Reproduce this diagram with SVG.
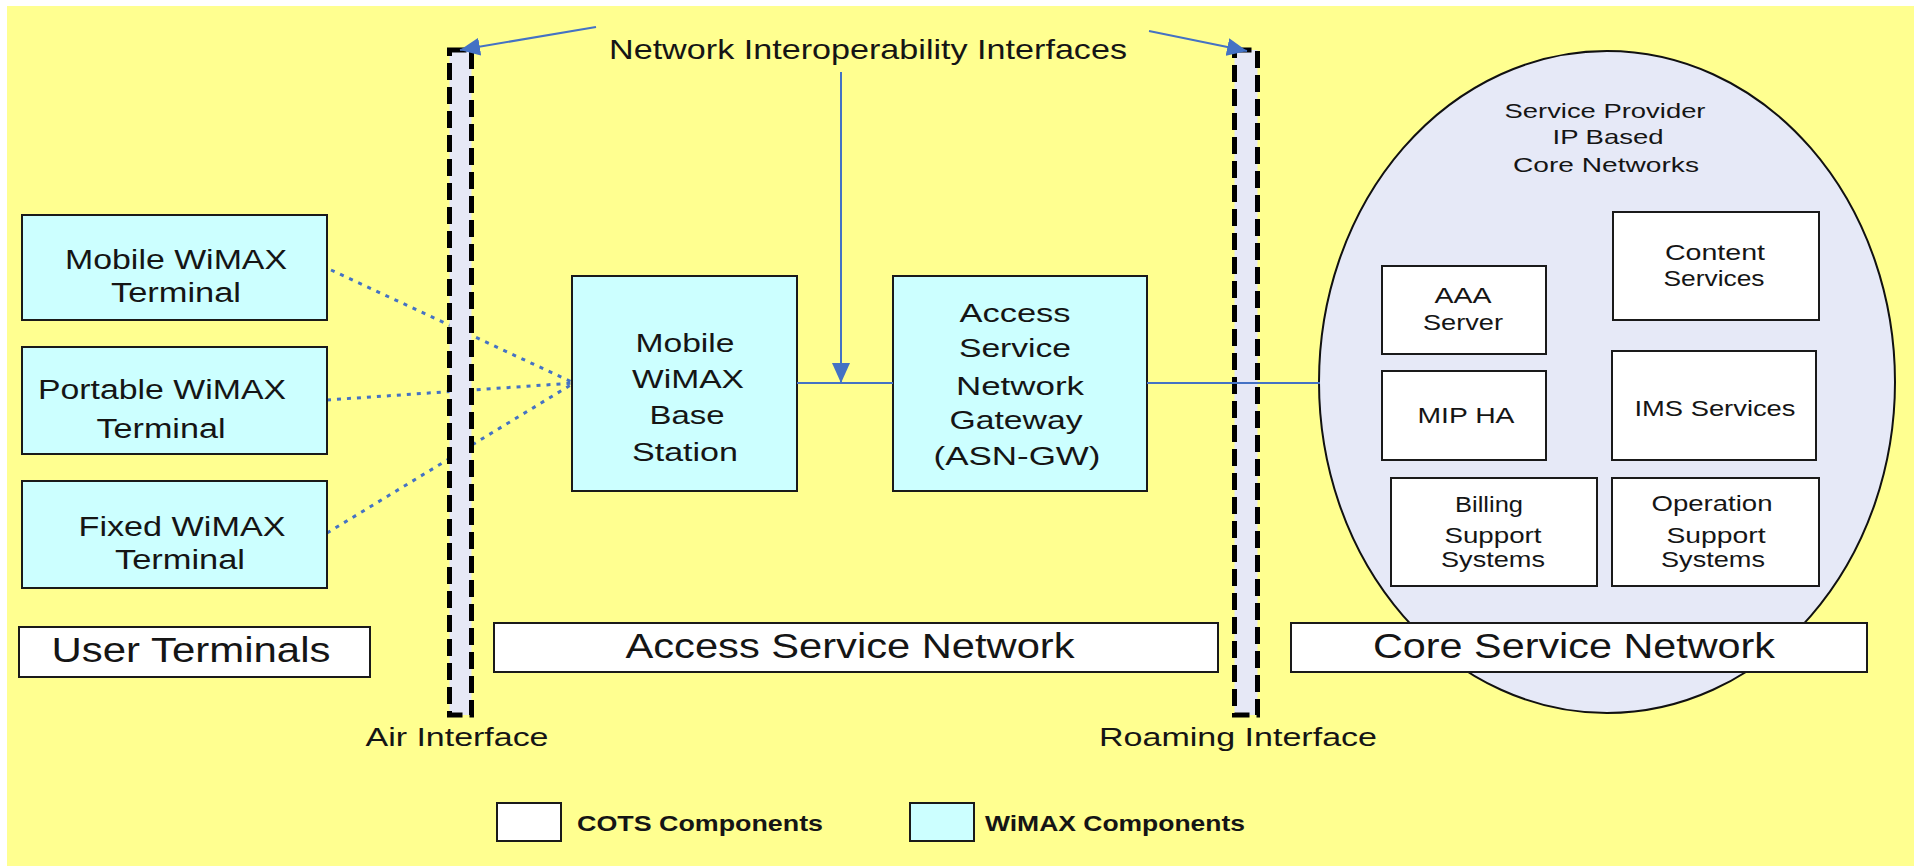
<svg xmlns="http://www.w3.org/2000/svg" width="1914" height="866" viewBox="0 0 1914 866">
  <style>
    text { font-family: "Liberation Sans", Arial, sans-serif; fill: #151515; }
    .t27 { font-size: 27px; }
    .t26 { font-size: 26px; }
    .t35 { font-size: 35px; }
    .t28 { font-size: 28px; }
    .t21 { font-size: 21px; }
    .t22 { font-size: 22px; }
    .leg { font-size: 22px; font-weight: bold; }
    .wimax { fill: #ccffff; stroke: #1a1a1a; stroke-width: 2; }
    .cots { fill: #ffffff; stroke: #1a1a1a; stroke-width: 2; }
    .iface { fill: #e6e8f6; stroke: #000000; stroke-width: 5; stroke-dasharray: 17 7; }
    .radio { fill: none; stroke: #4472c4; stroke-width: 3; stroke-dasharray: 4 6; }
    .link { fill: none; stroke: #4472c4; stroke-width: 2; }
  </style>
  <defs>
    <marker id="arrow" markerUnits="userSpaceOnUse" markerWidth="20" markerHeight="18" viewBox="0 0 20 18" refX="20" refY="9" orient="auto">
      <path d="M0,0 L20,9 L0,18 z" fill="#4472c4"/>
    </marker>
  </defs>

  <!-- page background -->
  <rect x="7" y="6" width="1907" height="860" fill="#ffff90"/>

  <!-- radio links between terminals and the base station (drawn under the interface bars) -->
  <g id="radio-links">
    <line class="radio" x1="331" y1="270" x2="574" y2="383"/>
    <line class="radio" x1="327" y1="400" x2="574" y2="383"/>
    <line class="radio" x1="327" y1="533" x2="574" y2="383"/>
  </g>

  <!-- interface bars -->
  <g id="air-interface">
    <rect class="iface" x="449.5" y="50" width="22" height="665"/>
    <text class="t26" x="457" y="746" text-anchor="middle" textLength="183" lengthAdjust="spacingAndGlyphs">Air Interface</text>
  </g>
  <g id="roaming-interface">
    <rect class="iface" x="1234.5" y="50" width="23" height="665"/>
    <text class="t26" x="1238" y="746" text-anchor="middle" textLength="278" lengthAdjust="spacingAndGlyphs">Roaming Interface</text>
  </g>

  <!-- user terminals -->
  <g id="mobile-terminal">
    <rect class="wimax" x="22" y="215" width="305" height="105"/>
    <text class="t27" x="176" y="269" text-anchor="middle" textLength="222" lengthAdjust="spacingAndGlyphs">Mobile WiMAX</text>
    <text class="t27" x="176" y="302" text-anchor="middle" textLength="130" lengthAdjust="spacingAndGlyphs">Terminal</text>
  </g>
  <g id="portable-terminal">
    <rect class="wimax" x="22" y="347" width="305" height="107"/>
    <text class="t27" x="162" y="399" text-anchor="middle" textLength="248" lengthAdjust="spacingAndGlyphs">Portable WiMAX</text>
    <text class="t27" x="161" y="438" text-anchor="middle" textLength="129" lengthAdjust="spacingAndGlyphs">Terminal</text>
  </g>
  <g id="fixed-terminal">
    <rect class="wimax" x="22" y="481" width="305" height="107"/>
    <text class="t27" x="182" y="536" text-anchor="middle" textLength="207" lengthAdjust="spacingAndGlyphs">Fixed WiMAX</text>
    <text class="t27" x="180" y="569" text-anchor="middle" textLength="130" lengthAdjust="spacingAndGlyphs">Terminal</text>
  </g>
  <g id="user-terminals-label">
    <rect class="cots" x="19" y="627" width="351" height="50"/>
    <text class="t35" x="191" y="662" text-anchor="middle" textLength="279" lengthAdjust="spacingAndGlyphs">User Terminals</text>
  </g>

  <!-- access service network -->
  <g id="base-station">
    <rect class="wimax" x="572" y="276" width="225" height="215"/>
    <text class="t26" x="685" y="352" text-anchor="middle" textLength="99" lengthAdjust="spacingAndGlyphs">Mobile</text>
    <text class="t26" x="688" y="388" text-anchor="middle" textLength="112" lengthAdjust="spacingAndGlyphs">WiMAX</text>
    <text class="t26" x="687" y="424" text-anchor="middle" textLength="75" lengthAdjust="spacingAndGlyphs">Base</text>
    <text class="t26" x="685" y="461" text-anchor="middle" textLength="106" lengthAdjust="spacingAndGlyphs">Station</text>
  </g>
  <g id="asn-gateway">
    <rect class="wimax" x="893" y="276" width="254" height="215"/>
    <text class="t26" x="1015" y="322" text-anchor="middle" textLength="111" lengthAdjust="spacingAndGlyphs">Access</text>
    <text class="t26" x="1015" y="357" text-anchor="middle" textLength="112" lengthAdjust="spacingAndGlyphs">Service</text>
    <text class="t26" x="1020" y="395" text-anchor="middle" textLength="128" lengthAdjust="spacingAndGlyphs">Network</text>
    <text class="t26" x="1016" y="429" text-anchor="middle" textLength="133" lengthAdjust="spacingAndGlyphs">Gateway</text>
    <text class="t26" x="1017" y="465" text-anchor="middle" textLength="167" lengthAdjust="spacingAndGlyphs">(ASN-GW)</text>
  </g>
  <g id="access-service-network-label">
    <rect class="cots" x="494" y="623" width="724" height="49"/>
    <text class="t35" x="850" y="658" text-anchor="middle" textLength="449" lengthAdjust="spacingAndGlyphs">Access Service Network</text>
  </g>

  <!-- core service network -->
  <g id="core-networks">
    <ellipse cx="1607" cy="382" rx="288" ry="331" fill="#e6e9f7" stroke="#111111" stroke-width="2"/>
    <text class="t21" x="1605" y="118" text-anchor="middle" textLength="201" lengthAdjust="spacingAndGlyphs">Service Provider</text>
    <text class="t21" x="1608" y="144" text-anchor="middle" textLength="111" lengthAdjust="spacingAndGlyphs">IP Based</text>
    <text class="t21" x="1606" y="172" text-anchor="middle" textLength="186" lengthAdjust="spacingAndGlyphs">Core Networks</text>
  </g>
  <g id="content-services">
    <rect class="cots" x="1613" y="212" width="206" height="108"/>
    <text class="t22" x="1715" y="260" text-anchor="middle" textLength="100" lengthAdjust="spacingAndGlyphs">Content</text>
    <text class="t22" x="1714" y="286" text-anchor="middle" textLength="101" lengthAdjust="spacingAndGlyphs">Services</text>
  </g>
  <g id="aaa-server">
    <rect class="cots" x="1382" y="266" width="164" height="88"/>
    <text class="t22" x="1463" y="303" text-anchor="middle" textLength="57" lengthAdjust="spacingAndGlyphs">AAA</text>
    <text class="t22" x="1463" y="330" text-anchor="middle" textLength="80" lengthAdjust="spacingAndGlyphs">Server</text>
  </g>
  <g id="mip-ha">
    <rect class="cots" x="1382" y="371" width="164" height="89"/>
    <text class="t22" x="1466" y="423" text-anchor="middle" textLength="97" lengthAdjust="spacingAndGlyphs">MIP HA</text>
  </g>
  <g id="ims-services">
    <rect class="cots" x="1612" y="351" width="204" height="109"/>
    <text class="t22" x="1715" y="416" text-anchor="middle" textLength="161" lengthAdjust="spacingAndGlyphs">IMS Services</text>
  </g>
  <g id="billing-support">
    <rect class="cots" x="1391" y="478" width="206" height="108"/>
    <text class="t22" x="1489" y="512" text-anchor="middle" textLength="68" lengthAdjust="spacingAndGlyphs">Billing</text>
    <text class="t22" x="1493" y="543" text-anchor="middle" textLength="97" lengthAdjust="spacingAndGlyphs">Support</text>
    <text class="t22" x="1493" y="567" text-anchor="middle" textLength="104" lengthAdjust="spacingAndGlyphs">Systems</text>
  </g>
  <g id="operation-support">
    <rect class="cots" x="1612" y="478" width="207" height="108"/>
    <text class="t22" x="1712" y="511" text-anchor="middle" textLength="121" lengthAdjust="spacingAndGlyphs">Operation</text>
    <text class="t22" x="1716" y="543" text-anchor="middle" textLength="99" lengthAdjust="spacingAndGlyphs">Support</text>
    <text class="t22" x="1713" y="567" text-anchor="middle" textLength="104" lengthAdjust="spacingAndGlyphs">Systems</text>
  </g>
  <g id="core-service-network-label">
    <rect class="cots" x="1291" y="623" width="576" height="49"/>
    <text class="t35" x="1574" y="658" text-anchor="middle" textLength="402" lengthAdjust="spacingAndGlyphs">Core Service Network</text>
  </g>

  <!-- interoperability callout -->
  <g id="interop-label">
    <text class="t28" x="868" y="59" text-anchor="middle" textLength="518" lengthAdjust="spacingAndGlyphs">Network Interoperability Interfaces</text>
  </g>

  <!-- connectors -->
  <g id="connectors">
    <line class="link" x1="797" y1="383" x2="893" y2="383"/>
    <line class="link" x1="1147" y1="383" x2="1320" y2="383"/>
    <line class="link" x1="596" y1="27" x2="460" y2="50" marker-end="url(#arrow)"/>
    <line class="link" x1="1149" y1="31" x2="1247" y2="51" marker-end="url(#arrow)"/>
    <line class="link" x1="841" y1="72" x2="841" y2="383" marker-end="url(#arrow)"/>
  </g>

  <!-- legend -->
  <g id="legend">
    <rect class="cots" x="497" y="803" width="64" height="38"/>
    <text class="leg" x="577" y="831" textLength="246" lengthAdjust="spacingAndGlyphs">COTS Components</text>
    <rect class="wimax" x="910" y="803" width="64" height="38"/>
    <text class="leg" x="985" y="831" textLength="260" lengthAdjust="spacingAndGlyphs">WiMAX Components</text>
  </g>
</svg>
